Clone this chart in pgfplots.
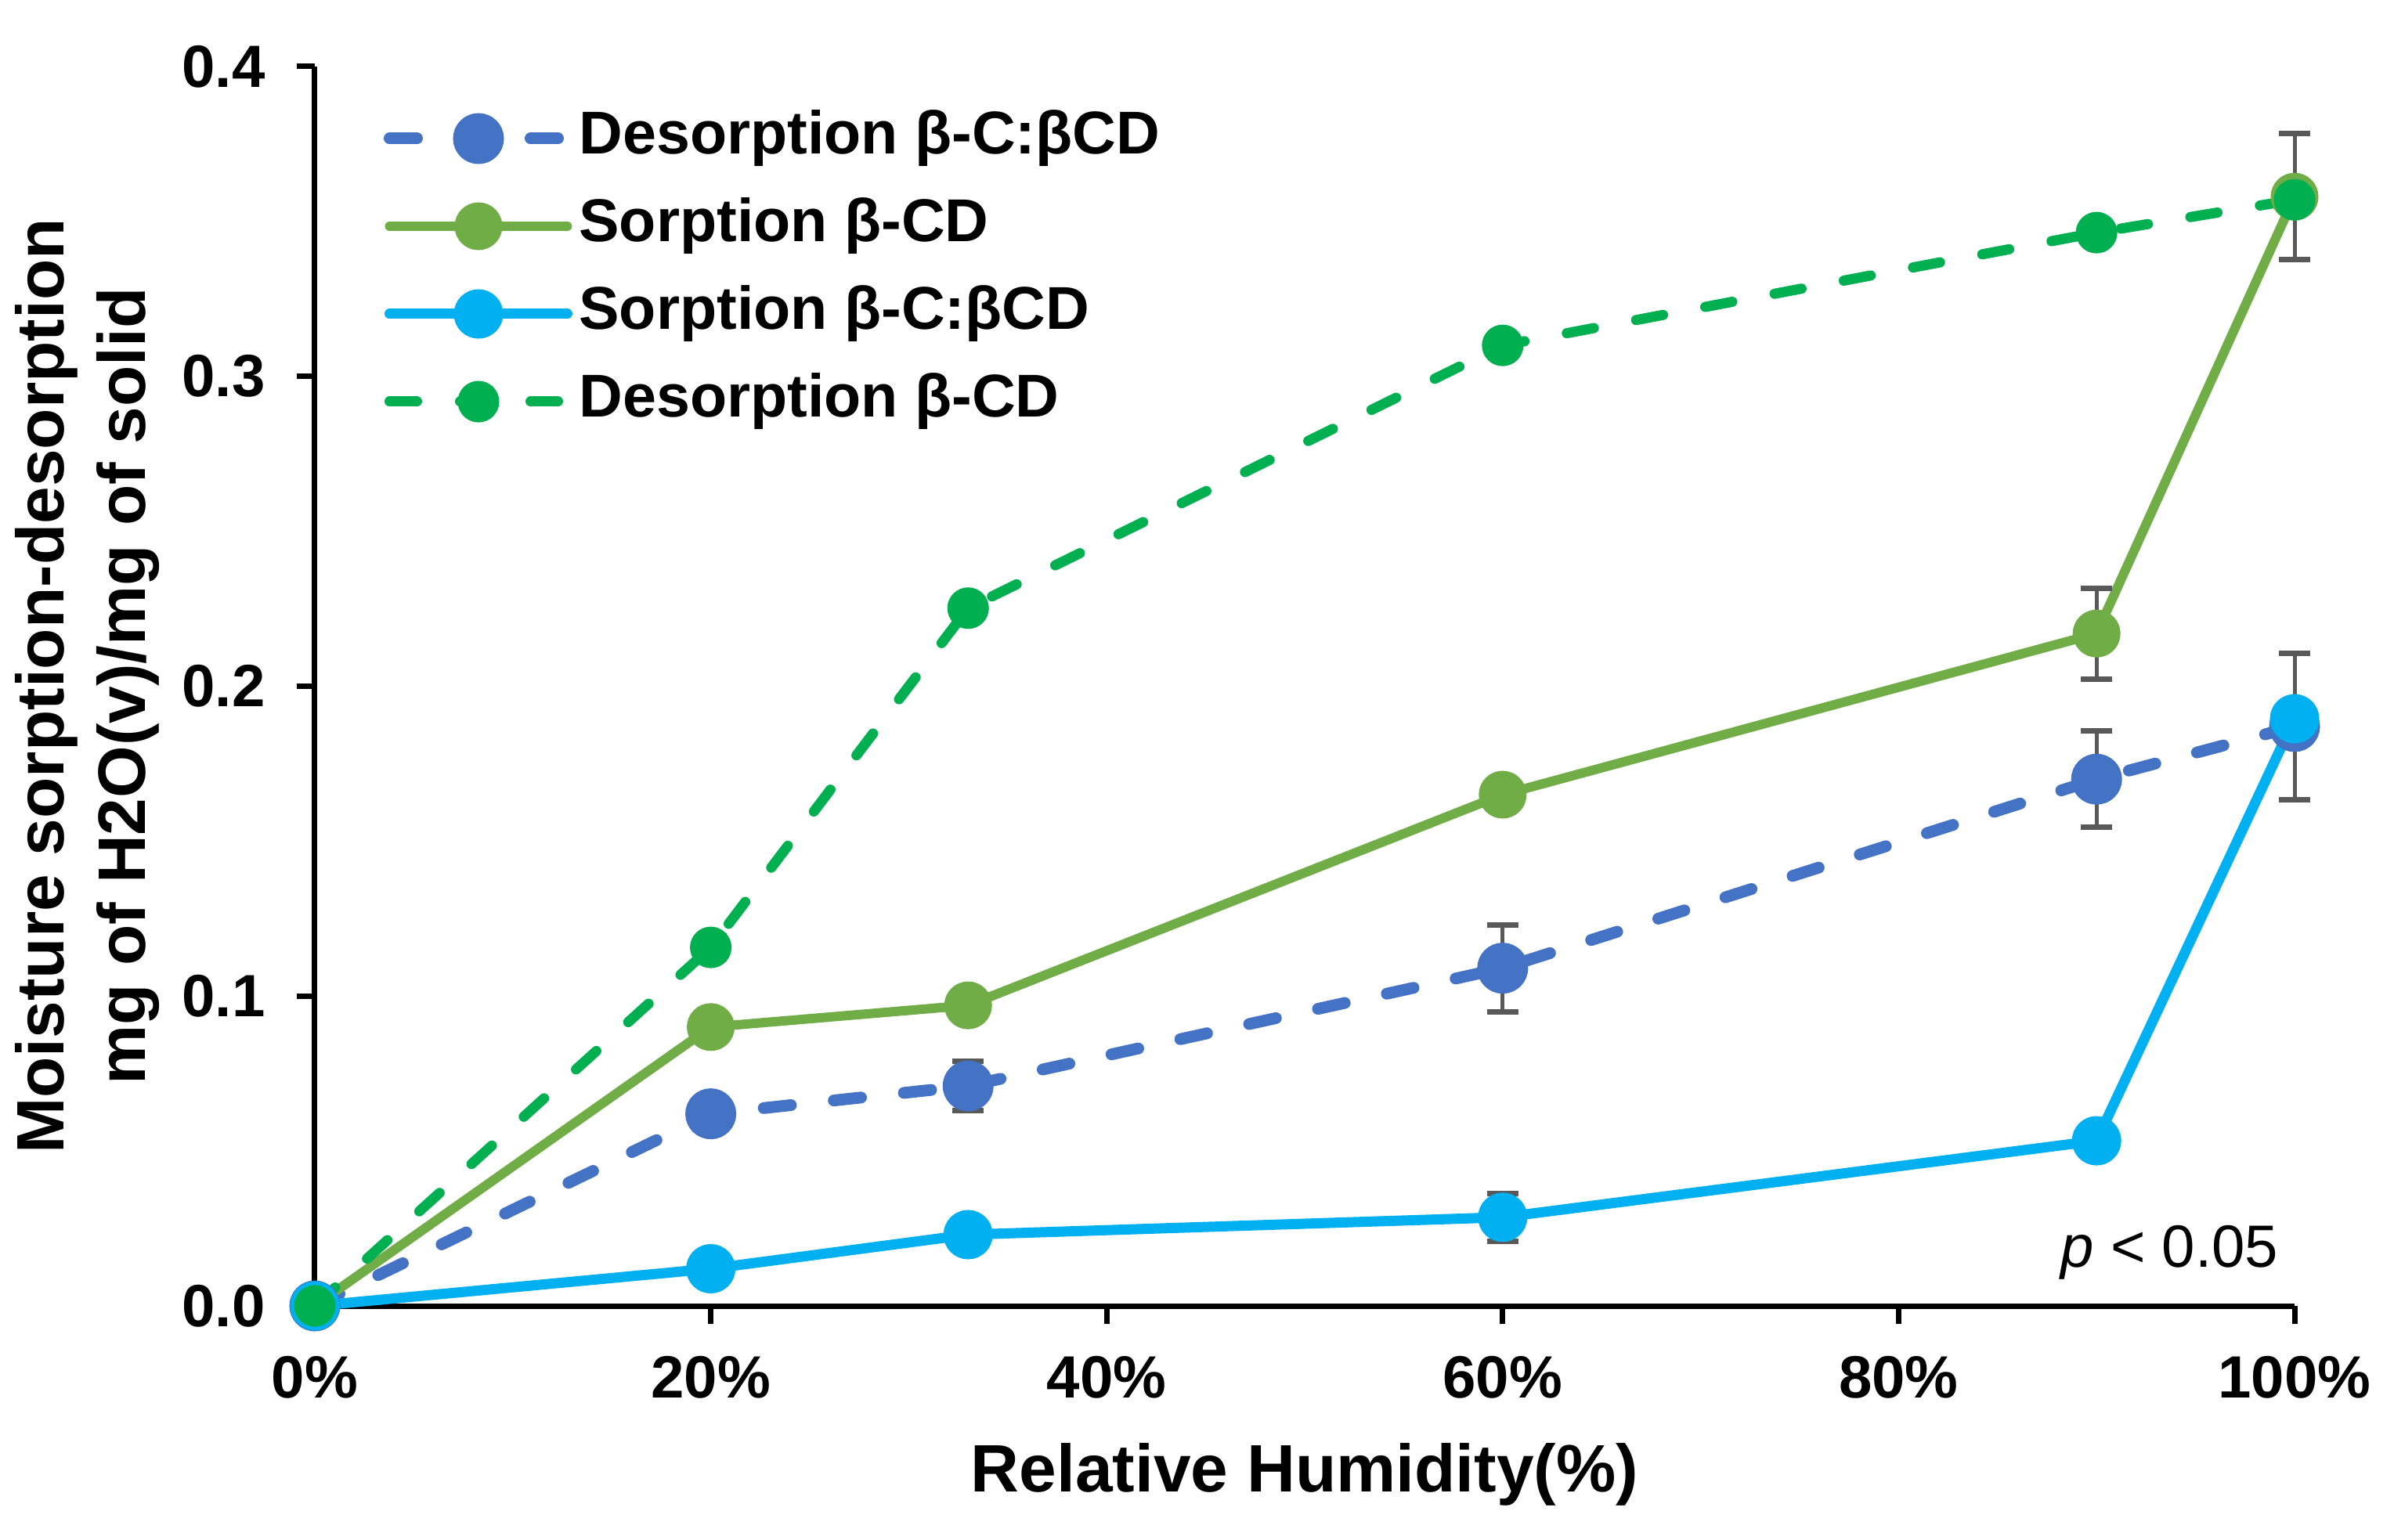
\documentclass[border=0pt]{standalone}
\usepackage{fontspec}
\setmainfont{Liberation Sans}
\usepackage{pgfplots}
\pgfplotsset{compat=1.18}

\definecolor{desblue}{HTML}{4472C4}
\definecolor{sorgreen}{HTML}{70AD47}
\definecolor{sorcyan}{HTML}{00B0F0}
\definecolor{desgreen}{HTML}{00B050}
\definecolor{errgray}{HTML}{595959}

\pgfplotsset{
  errbar/.style={
    error bars/.cd,
      y dir=both, y explicit,
      error bar style={errgray, line width=1bp, solid},
      error mark options={rotate=90, errgray, line width=1.4bp, mark size=4bp, solid},
  },
}

\begin{document}
\begin{tikzpicture}
\begin{axis}[
    name=ax,
    scale only axis,
    width=505.6bp, height=316.6bp,
    xmin=0, xmax=100, ymin=0, ymax=0.4,
    clip=false,
    axis x line*=bottom, axis y line*=left,
    axis line style={line width=1.4bp},
    tick align=outside,
    major tick length=4.5bp,
    tick style={black, line width=1.4bp},
    xtick={0,20,...,100},
    ytick={0,0.1,...,0.4},
    /pgf/number format/assume math mode=true,
    ticklabel style={font=\bfseries\fontsize{15.3}{18}\selectfont, inner sep=0pt},
    xticklabel={\pgfmathprintnumber{\tick}\%},
    xticklabel style={anchor=base, yshift=-19bp},
    yticklabel style={anchor=east, xshift=-8bp,
        /pgf/number format/.cd, fixed, fixed zerofill, precision=1},
    xlabel={Relative Humidity(\%)},
    ylabel={Moisture sorption-desorption\\mg of H2O(v)/mg of solid},
    label style={font=\bfseries\fontsize{17.2}{21}\selectfont, inner sep=0pt},
    xlabel style={at={([yshift=-47.4bp]axis description cs:0.5,0)}, anchor=base},
    ylabel style={at={([xshift=-39.4bp]axis description cs:0,0.5)}, anchor=south, align=center},
    legend cell align=left,
    legend style={
        at={(axis description cs:0,1)}, anchor=north west,
        xshift=17.4bp, yshift=-10.7bp,
        draw=none, fill=none, inner sep=0pt,
        font=\bfseries\fontsize{15.5}{18}\selectfont,
        row sep=7.4bp,
        nodes={inner sep=0pt, text height=11.5bp, text depth=3.5bp},
        /tikz/every odd column/.append style={column sep=1.5bp},
    },
    legend image code/.code={
        \draw[mark repeat=2, mark phase=2, #1]
            plot coordinates {(0bp,0bp) (22.7bp,0bp) (45.4bp,0bp)};
    },
]

% Desorption beta-C:betaCD
\addplot[desblue, line width=3bp, dash pattern=on 7bp off 11bp, line cap=round,
    mark=*, mark size=5bp, mark options={solid, fill=desblue, draw=none}, errbar]
    coordinates {
    (0,0) +- (0,0)
    (20,0.062) +- (0,0.002)
    (33,0.071) +- (0,0.008)
    (60,0.109) +- (0,0.014)
    (90,0.170) +- (0,0.0155)
    (100,0.187) +- (0,0.0236)
    };
\addlegendentry{Desorption β-C:βCD}

% Sorption beta-CD
\addplot[sorgreen, line width=2.4bp, line cap=round,
    mark=*, mark size=4.9bp, mark options={solid, fill=sorgreen, draw=none}, errbar]
    coordinates {
    (0,0) +- (0,0)
    (20,0.090) +- (0,0)
    (33,0.097) +- (0,0)
    (60,0.165) +- (0,0)
    (90,0.217) +- (0,0.0147)
    (100,0.358) +- (0,0.0203)
    };
\addlegendentry{Sorption β-CD}

% Sorption beta-C:betaCD
\addplot[sorcyan, line width=2.6bp, line cap=round,
    mark=*, mark size=5bp, mark options={solid, fill=sorcyan, draw=none}, errbar]
    coordinates {
    (0,0) +- (0,0)
    (20,0.012) +- (0,0)
    (33,0.023) +- (0,0)
    (60,0.0286) +- (0,0.0077)
    (90,0.0533) +- (0,0)
    (100,0.1895) +- (0,0)
    };
\addlegendentry{Sorption β-C:βCD}

% Desorption beta-CD
\addplot[desgreen, line width=2.6bp, dash pattern=on 7bp off 11bp, line cap=round,
    mark=*, mark size=4bp, mark options={solid, fill=desgreen, draw=none}, errbar]
    coordinates {
    (0,0) +- (0,0)
    (20,0.1157) +- (0,0.0037)
    (33,0.2252) +- (0,0)
    (60,0.310) +- (0,0)
    (90,0.3464) +- (0,0.002)
    (100,0.357) +- (0,0)
    };
\addlegendentry{Desorption β-CD}

\node[anchor=base east, inner sep=0pt, font=\fontsize{15.3}{18}\selectfont]
    at ([shift={(-4bp,10bp)}]axis description cs:1,0) {\textit{p} < 0.05};
\end{axis}
\pgfresetboundingbox
\path[use as bounding box] ([shift={(-80.4bp,-59.8bp)}]ax.south west)
    rectangle ([shift={(25.4bp,17bp)}]ax.north east);
\end{tikzpicture}
\end{document}
